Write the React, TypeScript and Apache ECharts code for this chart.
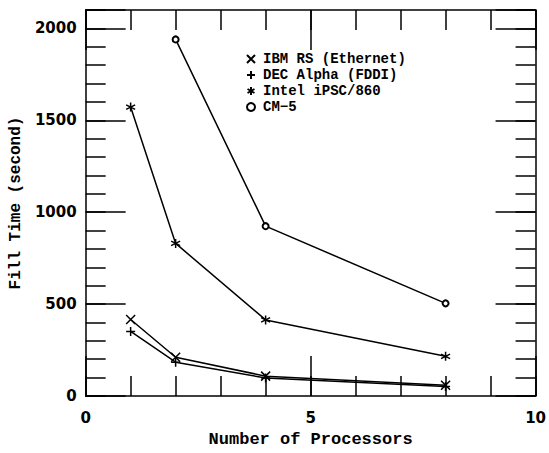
import React, { useEffect, useRef } from "react";
import * as echarts from "echarts";

const processors = [1, 2, 4, 8];
const ibmRS = [416, 211, 108, 58];
const decAlpha = [351, 184, 98, 52];
const inteliPSC = [1572, 830, 414, 216];
const cm5Procs = [2, 4, 8];
const cm5 = [1940, 924, 504];
const seriesNames = ["IBM RS (Ethernet)", "DEC Alpha (FDDI)", "Intel iPSC/860", "CM\u22125"];

const CROSS = "path://M0,0L10,10M10,0L0,10";
const PLUS = "path://M5,0L5,10M0,5L10,5";
const STAR = "path://M5,0L5,10M0.67,2.5L9.33,7.5M0.67,7.5L9.33,2.5";

const mono = "'Liberation Mono', monospace";
const sans = "'DejaVu Sans', sans-serif";
const black = "#000";
const lw = 1.5;

export default function App() {
  const ref = useRef<HTMLDivElement>(null);
  useEffect(() => {
    if (!ref.current) return;
    const chart = echarts.init(ref.current, null, { renderer: "svg" });
    const itemStyle = { color: black, borderColor: black, borderWidth: lw };
    const mk = (name: string, xs: number[], ys: number[], symbol: string, size: number) => ({
      name,
      type: "line",
      xAxisIndex: 0,
      yAxisIndex: 0,
      data: xs.map((x, i) => [x, ys[i]]),
      symbol,
      symbolSize: size,
      showAllSymbol: true,
      lineStyle: { color: black, width: lw },
      itemStyle,
      emphasis: { disabled: true },
    });
    const axisLineOn = { show: true, onZero: false, lineStyle: { color: black, width: lw } };
    const axisLineOff = { show: false, onZero: false };
    const tick = (len: number) => ({ show: true, inside: true, length: len, lineStyle: { color: black, width: lw } });
    const xBase = { type: "value", min: 0, max: 10, splitLine: { show: false } };
    const yBase = { type: "value", min: 0, max: 2100, splitLine: { show: false } };
    chart.setOption({
      animation: false,
      grid: { left: 84, right: 13, top: 10, bottom: 54 },
      legend: {
        orient: "vertical",
        left: 241,
        top: 46,
        itemWidth: 14,
        itemHeight: 8,
        itemGap: 0,
        selectedMode: false,
        textStyle: { fontFamily: mono, fontWeight: "bold", fontSize: 14, color: black, lineHeight: 16 },
        data: [
          { name: seriesNames[0], icon: CROSS },
          { name: seriesNames[1], icon: PLUS },
          { name: seriesNames[2], icon: STAR },
          { name: seriesNames[3], icon: "emptyCircle" },
        ],
      },
      xAxis: [
        {
          ...xBase,
          position: "bottom",
          interval: 5,
          name: "Number of Processors",
          nameLocation: "middle",
          nameGap: 35,
          nameTextStyle: { fontFamily: mono, fontWeight: "bold", fontSize: 17, color: black },
          axisLine: axisLineOn,
          axisTick: tick(40),
          axisLabel: { margin: 14, fontFamily: sans, fontWeight: "bold", fontSize: 15, color: black },
        },
        {
          ...xBase,
          position: "bottom",
          interval: 1,
          axisLine: axisLineOff,
          axisTick: tick(20),
          axisLabel: { show: false },
        },
        {
          ...xBase,
          position: "top",
          interval: 5,
          axisLine: axisLineOn,
          axisTick: tick(40),
          axisLabel: { show: false },
        },
        {
          ...xBase,
          position: "top",
          interval: 1,
          axisLine: axisLineOff,
          axisTick: tick(20),
          axisLabel: { show: false },
        },
      ],
      yAxis: [
        {
          ...yBase,
          position: "left",
          interval: 500,
          name: "Fill Time (second)",
          nameLocation: "middle",
          nameGap: 57,
          nameTextStyle: { fontFamily: mono, fontWeight: "bold", fontSize: 16, color: black },
          axisLine: axisLineOn,
          axisTick: tick(40),
          axisLabel: {
            margin: 9,
            fontFamily: sans,
            fontWeight: "bold",
            fontSize: 15,
            color: black,
            formatter: (v: number) => (v % 500 === 0 ? String(v) : ""),
          },
        },
        {
          ...yBase,
          position: "left",
          interval: 100,
          axisLine: axisLineOff,
          axisTick: tick(20),
          axisLabel: { show: false },
        },
        {
          ...yBase,
          position: "right",
          interval: 500,
          axisLine: axisLineOn,
          axisTick: tick(40),
          axisLabel: { show: false },
        },
        {
          ...yBase,
          position: "right",
          interval: 100,
          axisLine: axisLineOff,
          axisTick: tick(20),
          axisLabel: { show: false },
        },
      ],
      series: [
        mk(seriesNames[0], processors, ibmRS, CROSS, 9),
        mk(seriesNames[1], processors, decAlpha, PLUS, 9),
        mk(seriesNames[2], processors, inteliPSC, STAR, 9),
        mk(seriesNames[3], cm5Procs, cm5, "emptyCircle", 6),
      ],
    });
    return () => chart.dispose();
  }, []);
  return <div ref={ref} style={{ width: 549, height: 453, position: "absolute", left: 0, top: 0 }} />;
}
